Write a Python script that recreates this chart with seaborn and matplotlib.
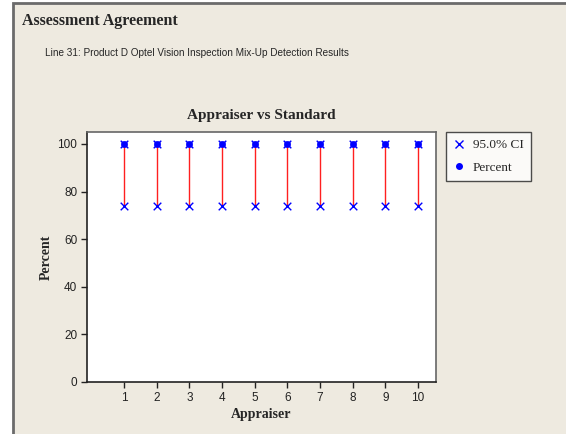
import numpy as np
import pandas as pd
import matplotlib
matplotlib.use("Agg")
import matplotlib.pyplot as plt
from matplotlib.lines import Line2D
from matplotlib.patches import Rectangle
import seaborn as sns

# Data
APPRAISERS = [1, 2, 3, 4, 5, 6, 7, 8, 9, 10]
PERCENT = [100, 100, 100, 100, 100, 100, 100, 100, 100, 100]
CI_LOWER = [74.11, 74.11, 74.11, 74.11, 74.11, 74.11, 74.11, 74.11, 74.11, 74.11]
CI_UPPER = [100, 100, 100, 100, 100, 100, 100, 100, 100, 100]
Y_TICKS = [0, 20, 40, 60, 80, 100]

BG = "#EEEAE0"
SERIF = "Liberation Serif"
SANS = "Liberation Sans"

sns.set_style("white")
plt.rcParams["font.family"] = [SANS, "DejaVu Sans"]

df = pd.DataFrame({"Appraiser": APPRAISERS, "Percent": PERCENT,
                   "Lower": CI_LOWER, "Upper": CI_UPPER})
ci = pd.concat([
    df[["Appraiser", "Lower"]].rename(columns={"Lower": "CI"}),
    df[["Appraiser", "Upper"]].rename(columns={"Upper": "CI"}),
])

fig = plt.figure(figsize=(5.66, 4.34), dpi=100)
fig.patch.set_facecolor("white")
W, H = 566, 434

# beige panel with a gray frame on top/left (cropped at right/bottom)
fig.patches.append(Rectangle((12.5 / W, -0.05), 1.1, (H - 2.5) / H + 0.05,
                             transform=fig.transFigure, facecolor=BG,
                             edgecolor="#6b6b6b", linewidth=2, zorder=-10))

ax = fig.add_axes([87 / W, 1 - 382 / H, (436 - 87) / W, (382 - 132) / H])
ax.set_facecolor("white")

ax.vlines(df["Appraiser"], df["Lower"], df["Upper"], color="#ff2020", linewidth=1, zorder=2)
sns.scatterplot(data=ci, x="Appraiser", y="CI", marker="x", color="#0000ff",
                s=30, linewidth=1, ax=ax, zorder=3, legend=False)
sns.scatterplot(data=df, x="Appraiser", y="Percent", marker="o", color="#0000ff",
                s=22, edgecolor="#0000ff", ax=ax, zorder=4, legend=False)

ax.set_xlim(-0.13, 10.55)
ax.set_ylim(0, 105)
ax.set_xticks(APPRAISERS)
ax.set_yticks(Y_TICKS)
ax.tick_params(axis="both", direction="out", length=4, width=1, labelsize=8.5,
               colors="#222222", pad=3, left=True, bottom=True)
for s in ["left", "bottom"]:
    ax.spines[s].set_color("#222222")
    ax.spines[s].set_linewidth(1.2)
for s in ["top", "right"]:
    ax.spines[s].set_color("#666666")
    ax.spines[s].set_linewidth(1.2)

ax.set_xlabel("Appraiser", family=[SERIF], fontweight="bold", fontsize=10, labelpad=3)
ax.set_ylabel("Percent", family=[SERIF], fontweight="bold", fontsize=10, labelpad=3)
ax.set_title("Appraiser vs Standard", family=[SERIF], fontweight="bold", fontsize=11, pad=9)

handles = [
    Line2D([], [], marker="x", color="#0000ff", linestyle="none", markersize=6),
    Line2D([], [], marker="o", color="#0000ff", linestyle="none", markersize=4),
]
leg = fig.legend(handles, ["95.0% CI", "Percent"], loc="upper left",
                 bbox_to_anchor=(446 / W, 1 - 132 / H), frameon=True, fancybox=False,
                 prop={"family": SERIF, "size": 9.5}, borderpad=0.55,
                 handlelength=0.8, handletextpad=0.7, labelspacing=0.75,
                 borderaxespad=0)
leg.get_frame().set_edgecolor("#222222")
leg.get_frame().set_linewidth(1.0)

fig.text(22 / W, 1 - 21 / H, "Assessment Agreement", family=[SERIF],
         fontweight="bold", fontsize=11.5, va="center", ha="left")
fig.text(45 / W, 1 - 53 / H, "Line 31: Product D Optel Vision Inspection Mix-Up Detection Results",
         fontsize=7.2, va="center", ha="left")

fig.savefig("out.png", dpi=100, facecolor=fig.get_facecolor())
